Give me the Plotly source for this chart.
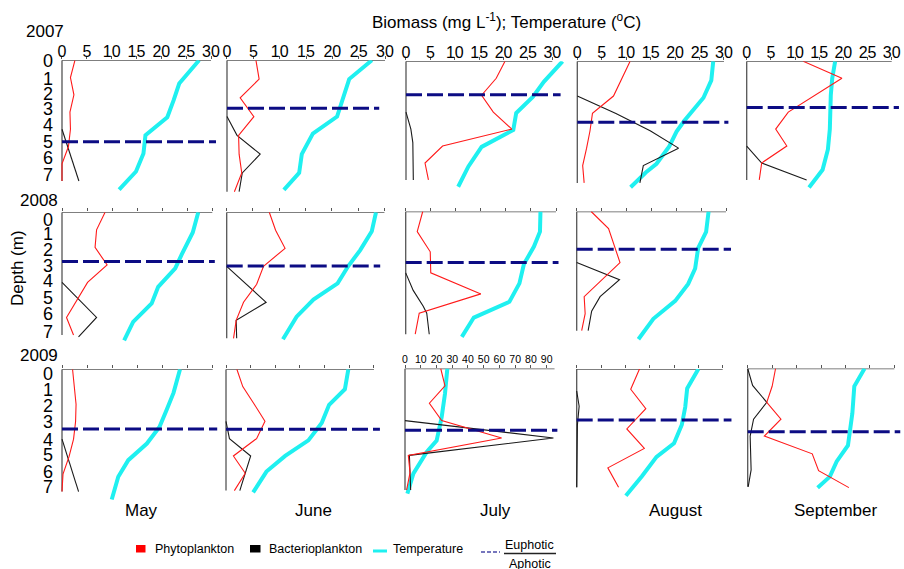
import plotly.graph_objects as go

# ------------------------------------------------------------------ data
YEARS = ["2007", "2008", "2009"]
MONTHS = ["May", "June", "July", "August", "September"]
BIOMASS_TICKS = [0, 5, 10, 15, 20, 25, 30]
JULY09_TICKS = [0, 10, 20, 30, 40, 50, 60, 70, 80, 90]
DEPTH_TICKS = [0, 1, 2, 3, 4, 5, 6, 7]

# each series: (depths in m, values)
# ---- 2007
phyto_may07 = ([0, 1, 2, 3, 4, 5, 6, 7], [2.6, 1.7, 2.4, 1.6, 1.7, 1.3, 0.0, 0.0])
bact_may07 = ([4, 5, 6, 7], [0.0, 1.1, 2.3, 3.4])
temp_may07 = ([0, 1.35, 2.3, 3.3, 4.35, 5.4, 6.45, 7.5], [27.6, 23.6, 22.5, 21.2, 16.8, 16.4, 14.9, 11.5])

phyto_jun07 = ([0, 1, 2, 3, 4, 5, 6, 7], [5.5, 6.1, 2.5, 5.1, 2.2, 2.3, 2.8, 1.4])
bact_jun07 = ([3, 4, 5, 6, 7], [0.0, 1.9, 6.3, 2.9, 2.3])
temp_jun07 = ([0, 1, 3, 3.9, 5, 6, 6.9], [27.5, 23.2, 20.9, 16.3, 14.2, 13.7, 10.8])

phyto_jul07 = ([0, 1, 2, 3, 4, 5, 6, 7], [20.3, 18.5, 15.5, 17.9, 21.7, 7.5, 3.9, 4.6])
bact_jul07 = ([3, 4, 4.8, 7], [0.0, 1.0, 1.4, 1.5])
temp_jul07 = ([0, 1.2, 2.1, 3.05, 4.05, 5.05, 6.2, 7.4], [32.1, 28.3, 26.0, 22.6, 22.0, 15.5, 12.8, 10.7])

phyto_aug07 = ([0, 2, 3, 4, 5, 6, 7], [10.8, 7.4, 3.1, 2.6, 1.9, 1.1, 1.4])
bact_aug07 = ([2, 3, 4, 5, 6, 7], [0.0, 7.9, 14.9, 20.7, 13.5, 12.8])
temp_aug07 = ([0, 1.1, 2.1, 3.45, 4.05, 4.9, 5.9, 6.4, 7.25], [27.8, 27.4, 25.8, 21.8, 20.3, 18.8, 16.2, 14.0, 10.9])

phyto_sep07 = ([0, 1, 3, 4, 5, 6, 7], [11.7, 19.7, 8.6, 6.0, 8.3, 3.1, 2.6])
bact_sep07 = ([5, 6, 7], [0.0, 3.1, 12.4])
temp_sep07 = ([0, 1, 2, 3, 4, 5.2, 6.4, 7.45], [18.3, 17.7, 17.4, 17.4, 17.2, 16.8, 15.7, 12.9])

# ---- 2008
phyto_may08 = ([0, 1, 2, 3, 4, 6, 7], [8.6, 6.9, 6.6, 9.0, 5.1, 0.9, 2.3])
bact_may08 = ([4, 6, 7.1], [0.0, 6.9, 3.3])
temp_may08 = ([0, 1.15, 2.4, 3.2, 4.25, 5.2, 6.25, 7.3], [27.2, 26.1, 23.9, 22.6, 19.2, 17.9, 14.2, 12.4])

phyto_jun08 = ([0, 1, 2, 3, 4, 5, 6, 7], [8.1, 9.3, 11.1, 7.0, 5.7, 3.2, 1.8, 1.3])
bact_jun08 = ([3, 5, 6, 7], [0.0, 7.5, 1.8, 1.9])
temp_jun08 = ([0, 1.05, 2.1, 3, 3.95, 4.85, 5.8, 7.05], [28.4, 27.6, 25.4, 23.1, 21.1, 16.5, 13.3, 10.7])

phyto_jul08 = ([0, 1.15, 2.3, 3.5, 4.7, 5.8, 7], [3.4, 2.3, 4.9, 5.0, 15.0, 2.7, 1.9])
bact_jul08 = ([3.5, 4.5, 5.4, 5.8, 7], [0.0, 1.5, 3.5, 4.2, 4.7])
temp_jul08 = ([0, 1.15, 2, 3, 4.1, 5.15, 6.05, 7.15], [26.9, 26.8, 25.6, 23.6, 22.7, 20.7, 13.6, 11.2])

phyto_aug08 = ([0, 1, 3, 5, 6, 7], [2.9, 6.4, 8.7, 1.5, 1.7, 1.0])
bact_aug08 = ([3, 4, 5, 5.85, 7], [0.0, 8.6, 4.7, 3.0, 2.3])
temp_aug08 = ([0, 1.2, 2.15, 3.35, 4.25, 5.25, 6.3, 7.5], [26.5, 26.0, 24.4, 23.8, 22.4, 19.8, 15.4, 12.4])

# ---- 2009
phyto_may09 = ([0, 1, 2, 3, 4, 5, 6, 7], [2.1, 2.4, 2.8, 2.7, 2.3, 1.4, 0.2, 0.0])
bact_may09 = ([4, 7], [0.0, 3.3])
temp_may09 = ([0, 1.35, 2.35, 3.3, 4.25, 5.2, 6.15, 7.45], [23.5, 22.2, 20.8, 19.4, 16.9, 13.2, 11.2, 9.9])

phyto_jun09 = ([0, 1, 2, 3, 4, 5, 6, 7], [2.2, 3.4, 5.7, 7.9, 6.2, 1.5, 3.9, 1.7])
bact_jun09 = ([3, 4, 5, 6, 7], [0.0, 0.7, 5.0, 3.9, 2.8])
temp_jun09 = ([0, 1.15, 2.05, 3.1, 4.1, 5, 5.9, 7.1], [24.8, 24.1, 20.9, 19.4, 16.7, 12.0, 8.2, 5.5])

phyto_jul09 = ([0, 1, 2, 3, 4, 5, 6, 7], [22.7, 25.4, 15.5, 23.3, 61.4, 2.1, 3.2, 1.0])
bact_jul09 = ([3, 4, 5, 7], [0.0, 94.3, 2.8, 3.6])
temp_jul09 = ([0, 1.45, 2.8, 3.55, 4.15, 4.8, 6.05, 7.2], [26.9, 25.4, 23.3, 21.8, 20.1, 13.8, 5.3, 1.5])

phyto_aug09 = ([0, 1.2, 2.35, 3.55, 4.7, 5.85, 7], [12.9, 11.1, 14.2, 10.3, 13.9, 6.4, 8.6])
bact_aug09 = ([1.3, 2.2, 3.3, 7], [0.0, 0.5, 0.15, 0.0])
temp_aug09 = ([0, 1.15, 2.25, 3.3, 4.4, 5.2, 6.35, 7.5], [25.0, 22.7, 22.3, 21.6, 20.0, 16.4, 13.4, 10.1])

phyto_sep09 = ([0, 1.05, 2, 3, 4, 5.05, 6.05, 7.05], [5.7, 5.0, 3.9, 6.8, 3.4, 13.2, 14.5, 20.7])
bact_sep09 = ([0, 1, 2, 3, 4, 6, 7], [0.0, 1.0, 3.9, 1.2, 0.5, 0.7, 0.1])
temp_sep09 = ([0, 1.05, 2.65, 3.85, 4.55, 5.5, 6.4, 7.05], [23.9, 21.8, 21.4, 20.9, 20.5, 18.2, 16.8, 14.3])

# euphotic / aphotic boundary depth (m), by month
euphotic_2007 = [4.72, 2.56, 1.97, 3.51, 2.72]
euphotic_2008 = [2.80, 2.98, 2.91, 2.21]
euphotic_2009 = [3.42, 3.46, 3.55, 3.02, 3.75]

PANELS = [
    (0, 0, phyto_may07, bact_may07, temp_may07, euphotic_2007[0]),
    (0, 1, phyto_jun07, bact_jun07, temp_jun07, euphotic_2007[1]),
    (0, 2, phyto_jul07, bact_jul07, temp_jul07, euphotic_2007[2]),
    (0, 3, phyto_aug07, bact_aug07, temp_aug07, euphotic_2007[3]),
    (0, 4, phyto_sep07, bact_sep07, temp_sep07, euphotic_2007[4]),
    (1, 0, phyto_may08, bact_may08, temp_may08, euphotic_2008[0]),
    (1, 1, phyto_jun08, bact_jun08, temp_jun08, euphotic_2008[1]),
    (1, 2, phyto_jul08, bact_jul08, temp_jul08, euphotic_2008[2]),
    (1, 3, phyto_aug08, bact_aug08, temp_aug08, euphotic_2008[3]),
    (2, 0, phyto_may09, bact_may09, temp_may09, euphotic_2009[0]),
    (2, 1, phyto_jun09, bact_jun09, temp_jun09, euphotic_2009[1]),
    (2, 2, phyto_jul09, bact_jul09, temp_jul09, euphotic_2009[2]),
    (2, 3, phyto_aug09, bact_aug09, temp_aug09, euphotic_2009[3]),
    (2, 4, phyto_sep09, bact_sep09, temp_sep09, euphotic_2009[4]),
]

# ------------------------------------------------------------------ style / geometry
W, H = 904, 569
FONT = "Liberation Sans, Arial, sans-serif"
RED, BLACK, CYAN, NAVY, AXIS = "#ff1a1a", "#1a1a1a", "#1ff0f0", "#0c0c84", "#555555"

# panel pixel geometry: (x of value 0, px per unit, y of depth 0, px per metre)
GEOM = {
    (0, 0): (62.0, 4.967, 60.3, 17.24),
    (0, 1): (227.0, 5.267, 60.3, 18.77),
    (0, 2): (406.0, 4.877, 61.3, 16.95),
    (0, 3): (577.3, 4.890, 61.3, 17.37),
    (0, 4): (746.7, 4.833, 61.3, 16.95),
    (1, 0): (62.0, 5.010, 212.3, 17.53),
    (1, 1): (226.7, 5.257, 212.3, 18.00),
    (1, 2): (405.7, 5.010, 211.5, 17.53),
    (1, 3): (576.7, 4.977, 211.5, 17.03),
    (2, 0): (62.0, 5.023, 369.3, 17.47),
    (2, 1): (226.0, 4.933, 369.3, 17.33),
    (2, 2): (405.0, 1.574, 368.5, 17.37),
    (2, 3): (576.7, 4.867, 369.0, 16.90),
    (2, 4): (747.7, 4.890, 368.5, 16.90),
}
# pixel rows of the depth tick labels (as placed in the original figure)
DEPTH_LABEL_PX = {
    0: [60.5, 78.3, 94.0, 109.0, 125.0, 141.7, 158.0, 175.0],
    1: [219.3, 233.8, 249.3, 265.3, 281.0, 297.3, 313.3, 331.7],
    2: [373.3, 390.0, 406.0, 421.7, 439.3, 455.0, 471.7, 486.7],
}
# end of the dashed euphotic line, in axis units
EUPH_END = {
    (0, 0): 31.0, (0, 1): 28.9, (0, 2): 31.7, (0, 3): 30.9, (0, 4): 31.5,
    (1, 0): 30.5, (1, 1): 29.2, (1, 2): 30.5, (1, 3): 31.0,
    (2, 0): 30.9, (2, 1): 31.2, (2, 2): 96.8, (2, 3): 31.8, (2, 4): 31.2,
}
Y_RANGE = (0, 7.8)


def px(x, y):
    return x / W, 1 - y / H


fig = go.Figure()
layout = dict(
    width=W, height=H, autosize=False,
    margin=dict(l=0, r=0, t=0, b=0, pad=0, autoexpand=False),
    paper_bgcolor="white", plot_bgcolor="rgba(0,0,0,0)",
    showlegend=False, font=dict(family=FONT, color="black"),
)
shapes, annotations = [], []

for i, (r, c, phyto, bact, temp, euph) in enumerate(PANELS):
    n = i + 1
    xa, ya = f"xaxis{n}", f"yaxis{n}"
    xr, yr = f"x{n}", f"y{n}"
    x0, kx, y0, ky = GEOM[(r, c)]
    wide = (r, c) == (2, 2)
    xmin, xmax = (-2.5, 101.0) if wide else (-0.8, 32.6)
    xmax = min(xmax, (W - 0.5 - x0) / kx)
    axis_end = 95 if wide else 30
    ticks = JULY09_TICKS if wide else BIOMASS_TICKS

    left, right = x0 + xmin * kx, x0 + xmax * kx
    top, bottom = y0 + Y_RANGE[0] * ky, y0 + Y_RANGE[1] * ky
    label_pos = [max(0.0, (p - y0) / ky) for p in DEPTH_LABEL_PX[r]]

    layout[xa] = dict(
        domain=[max(0.0, left / W), min(1.0, right / W)], range=[xmin, xmax], anchor=yr, side="top",
        tickvals=ticks, ticktext=[str(t) for t in ticks],
        showticklabels=(r == 0 or wide),
        tickfont=dict(size=10.5 if wide else 16, family=FONT, color="black"),
        ticks="outside", ticklen=3, tickwidth=1, tickcolor=AXIS,
        ticklabelstandoff=-3 if wide else -7,
        showgrid=False, zeroline=False, showline=False, fixedrange=True, automargin=False,
    )
    layout[ya] = dict(
        domain=[max(0.0, 1 - bottom / H), min(1.0, 1 - top / H)], range=[Y_RANGE[1], Y_RANGE[0]], anchor=xr,
        tickvals=label_pos, ticktext=[str(t) for t in DEPTH_TICKS],
        showticklabels=(c == 0), ticks="", ticklabelstandoff=4,
        tickfont=dict(size=18, family=FONT, color="black"),
        showgrid=False, zeroline=False, showline=False, fixedrange=True, automargin=False,
    )

    # axis lines (top biomass axis, left depth axis)
    shapes.append(dict(type="line", xref=xr, yref=yr, x0=0, x1=axis_end, y0=0, y1=0,
                       line=dict(color=AXIS, width=1.3), layer="below"))
    shapes.append(dict(type="line", xref=xr, yref=yr, x0=0, x1=0, y0=0, y1=7,
                       line=dict(color=AXIS, width=1.3), layer="below"))

    fig.add_trace(go.Scatter(x=temp[1], y=temp[0], mode="lines", xaxis=xr, yaxis=yr,
                             line=dict(color=CYAN, width=4), hoverinfo="skip"))
    fig.add_trace(go.Scatter(x=bact[1], y=bact[0], mode="lines", xaxis=xr, yaxis=yr,
                             line=dict(color=BLACK, width=1.1), hoverinfo="skip"))
    fig.add_trace(go.Scatter(x=phyto[1], y=phyto[0], mode="lines", xaxis=xr, yaxis=yr,
                             line=dict(color=RED, width=1.1), hoverinfo="skip"))
    fig.add_trace(go.Scatter(x=[0, EUPH_END[(r, c)]], y=[euph, euph], mode="lines",
                             xaxis=xr, yaxis=yr, hoverinfo="skip",
                             line=dict(color=NAVY, width=3, dash="16px,5px")))

# ---------------------------------------------------------------- text
def ann(text, x, y, size, xanchor="center", yanchor="middle", angle=0):
    ax, ay = px(x, y)
    annotations.append(dict(text=text, x=ax, y=ay, xref="paper", yref="paper",
                            xanchor=xanchor, yanchor=yanchor, showarrow=False,
                            textangle=angle, font=dict(size=size, family=FONT, color="black")))


ann("Biomass (mg L<sup>-1</sup>); Temperature (<sup>o</sup>C)", 507, 21, 17)
for yr_label, ypos, xpos in zip(YEARS, [31, 200, 355], [45, 39, 39]):
    ann(yr_label, xpos, ypos, 17)
ann("Depth (m)", 18, 268, 17, angle=-90)
for m, xpos in zip(MONTHS, [141, 313, 495, 675, 835]):
    ann(m, xpos, 510, 17)

# legend (drawn by hand)
LEG_Y = 548.5
shapes += [
    dict(type="rect", xref="paper", yref="paper",
         x0=px(136, 0)[0], x1=px(145.5, 0)[0], y0=px(0, 552.5)[1], y1=px(0, 545)[1],
         fillcolor="#ff0000", line=dict(width=0)),
    dict(type="rect", xref="paper", yref="paper",
         x0=px(250, 0)[0], x1=px(260.5, 0)[0], y0=px(0, 552.5)[1], y1=px(0, 545)[1],
         fillcolor="#000000", line=dict(width=0)),
    dict(type="line", xref="paper", yref="paper",
         x0=px(373, 0)[0], x1=px(387, 0)[0], y0=px(0, 551)[1], y1=px(0, 551)[1],
         line=dict(color=CYAN, width=3)),
    dict(type="line", xref="paper", yref="paper",
         x0=px(481, 0)[0], x1=px(500, 0)[0], y0=px(0, 552)[1], y1=px(0, 552)[1],
         line=dict(color="#4a4aa8", width=1.5, dash="4px,2px")),
    dict(type="line", xref="paper", yref="paper",
         x0=px(504, 0)[0], x1=px(556, 0)[0], y0=px(0, 553.5)[1], y1=px(0, 553.5)[1],
         line=dict(color="#222222", width=1.4)),
]
ann("Phytoplankton", 152.5, LEG_Y, 12.5, xanchor="left")
ann("Bacterioplankton", 266.5, LEG_Y, 12.5, xanchor="left")
ann("Temperature", 390.5, LEG_Y, 12.5, xanchor="left")
ann("Euphotic", 529.5, 545, 12.5)
ann("Aphotic", 530, 563.5, 12.5)

layout["shapes"] = shapes
layout["annotations"] = annotations
fig.update_layout(**layout)

fig.write_html("out.html", config={"displayModeBar": False},
               post_script="document.body.style.margin='0px';")
